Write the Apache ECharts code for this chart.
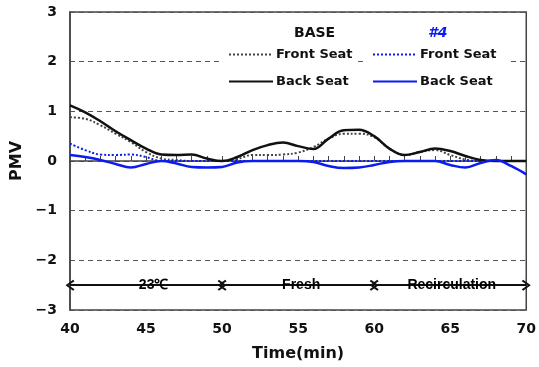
<!DOCTYPE html>
<html>
<head>
<meta charset="utf-8">
<script src="https://cdn.jsdelivr.net/npm/echarts@6/dist/echarts.min.js"></script>
<style>html,body{margin:0;padding:0;background:#fff}#c{width:539px;height:367px}</style>
</head>
<body>
<div id="c"></div>
<script>
// ---- data ----
var times = [40,41,42,43,44,45,46,47,48,49,50,51,52,53,54,55,56,57,58,59,60,61,62,63,64,65,66,67,68,69,70];
var baseFront = [0.88,0.85,0.72,0.55,0.38,0.18,0.05,0.02,0.0,0.0,0.0,0.04,0.12,0.12,0.13,0.17,0.28,0.45,0.55,0.55,0.48,0.25,0.12,0.18,0.22,0.12,0.03,0.0,0.0,0.0,0.0];
var baseBack  = [1.12,0.98,0.8,0.6,0.42,0.25,0.13,0.12,0.13,0.05,0.0,0.08,0.22,0.32,0.37,0.3,0.24,0.45,0.62,0.63,0.5,0.25,0.12,0.18,0.25,0.2,0.1,0.02,0.0,0.0,0.0];
var n4Front   = [0.35,0.22,0.13,0.12,0.13,0.08,0.0,0.0,0.0,0.0,0.0,0.0,0.0,0.0,0.0,0.0,0.0,0.0,0.0,0.0,0.0,0.0,0.0,0.0,0.0,0.0,0.0,0.0,0.0,0.0,0.0];
var n4Back    = [0.12,0.08,0.02,-0.06,-0.13,-0.06,0.0,-0.05,-0.12,-0.13,-0.12,-0.03,0.0,0.0,0.0,0.0,-0.02,-0.1,-0.14,-0.13,-0.08,-0.02,0.0,0.0,0.0,-0.08,-0.13,-0.04,0.02,-0.1,-0.27];
var xTicks = [40,45,50,55,60,65,70];
var yTicks = [-3,-2,-1,0,1,2,3];
var phaseStart = [40,50,60];
var phaseEnd = [50,60,70];
var phaseLabels = ['23\u2103','Fresh','Recirculation'];
var phaseLabelAt = [45.5,55.2,65.1];
var phaseLevel = -2.5;

function pairs(v){ return times.map(function(t,i){ return [t, v[i]]; }); }

var FONT = 'DejaVu Sans';
var BLUE = '#0b1cf0';
var chevron = 'path://M5,0 L10,8 L8.6,9.4 L5,3.2 L1.4,9.4 L0,8 Z';

var chart = echarts.init(document.getElementById('c'));
var mlData = phaseStart.map(function(s,i){
  return [{coord:[s, phaseLevel]},{coord:[phaseEnd[i], phaseLevel]}];
});
var legendCommon = {orient:'vertical',top:45,itemGap:14,itemWidth:44,itemHeight:14,
  backgroundColor:'#fff',itemStyle:{opacity:0},
  textStyle:{fontFamily:FONT,fontSize:13,fontWeight:'bold',color:'#111',padding:[0,0,0,-2]}};
var option = {
  animation:false,
  backgroundColor:'#fff',
  grid:{left:70,right:12,top:12,bottom:52,show:true,borderColor:'#444',borderWidth:1.5,backgroundColor:'transparent'},
  title:[
    {text:'BASE',left:289,top:21,textStyle:{fontFamily:FONT,fontSize:14,fontWeight:'bold',color:'#111'}},
    {text:'#4',left:423,top:21,textStyle:{fontFamily:FONT,fontSize:14,fontWeight:'bold',fontStyle:'italic',color:BLUE}}
  ],
  legend:[
    Object.assign({}, legendCommon, {left:222,padding:[3,4,3,6],data:['BASE Front Seat','BASE Back Seat'],
      formatter:function(n){return n.replace('BASE ','');}}),
    Object.assign({}, legendCommon, {left:366,padding:[3,12,3,6],data:['#4 Front Seat','#4 Back Seat'],
      formatter:function(n){return n.replace('#4 ','');}})
  ],
  xAxis:{type:'value',min:40,max:70,interval:5,
    name:'Time(min)',nameLocation:'middle',nameGap:36,
    nameTextStyle:{fontFamily:FONT,fontSize:16,fontWeight:'bold',color:'#111'},
    axisLine:{show:true,lineStyle:{color:'#444',width:1.5}},
    axisTick:{show:true,inside:true,length:5,lineStyle:{color:'#444'}},
    minorTick:{show:true,splitNumber:5,length:5,lineStyle:{color:'#444'}},
    splitLine:{show:false},
    axisLabel:{fontFamily:FONT,fontSize:14,fontWeight:'bold',color:'#111',margin:12,
      formatter:function(v){return xTicks.indexOf(v)>=0?String(v):'';}}
  },
  yAxis:{type:'value',min:-3,max:3,interval:1,
    name:'PMV',nameLocation:'middle',nameGap:29,nameRotate:90,
    nameTextStyle:{fontFamily:FONT,fontSize:16,fontWeight:'bold',color:'#111'},
    axisLine:{show:true,lineStyle:{color:'#444',width:1.5}},
    axisTick:{show:false},
    splitLine:{show:true,lineStyle:{color:'#555',width:1,type:[5,4]}},
    axisLabel:{fontFamily:FONT,fontSize:14,fontWeight:'bold',color:'#111',margin:13,
      formatter:function(v){return yTicks.indexOf(v)>=0?String(v).replace('-','\u2212'):'';}}
  },
  series:[
    {name:'BASE Front Seat',type:'line',smooth:0.4,symbol:'none',data:pairs(baseFront),
     lineStyle:{color:'#444',width:2,type:'dotted'},itemStyle:{color:'#444'},z:3},
    {name:'BASE Back Seat',type:'line',smooth:0.4,symbol:'none',data:pairs(baseBack),
     lineStyle:{color:'#111',width:2.5},itemStyle:{color:'#111'},z:4},
    {name:'#4 Front Seat',type:'line',smooth:0.4,symbol:'none',data:pairs(n4Front),
     lineStyle:{color:BLUE,width:2,type:'dotted'},itemStyle:{color:BLUE},z:3},
    {name:'#4 Back Seat',type:'line',smooth:0.4,symbol:'none',data:pairs(n4Back),
     lineStyle:{color:BLUE,width:2.5},itemStyle:{color:BLUE},z:5,
     markLine:{silent:true,symbol:[chevron,chevron],symbolSize:[11,9],
       lineStyle:{color:'#111',width:2,type:'solid'},label:{show:false},
       data:mlData}},
    {name:'phases',type:'line',symbol:'none',silent:true,z:6,
     lineStyle:{width:0},
     data:[],
     markPoint:{symbol:'circle',symbolSize:0,silent:true,
       label:{show:true,position:'inside',fontFamily:'Liberation Sans',fontSize:14,fontWeight:'bold',color:'#000'},
       data:phaseLabelAt.map(function(t,i){return {coord:[t,phaseLevel],value:phaseLabels[i],label:{formatter:phaseLabels[i]}};})}}
  ]
};
chart.setOption(option);
</script>
</body>
</html>
